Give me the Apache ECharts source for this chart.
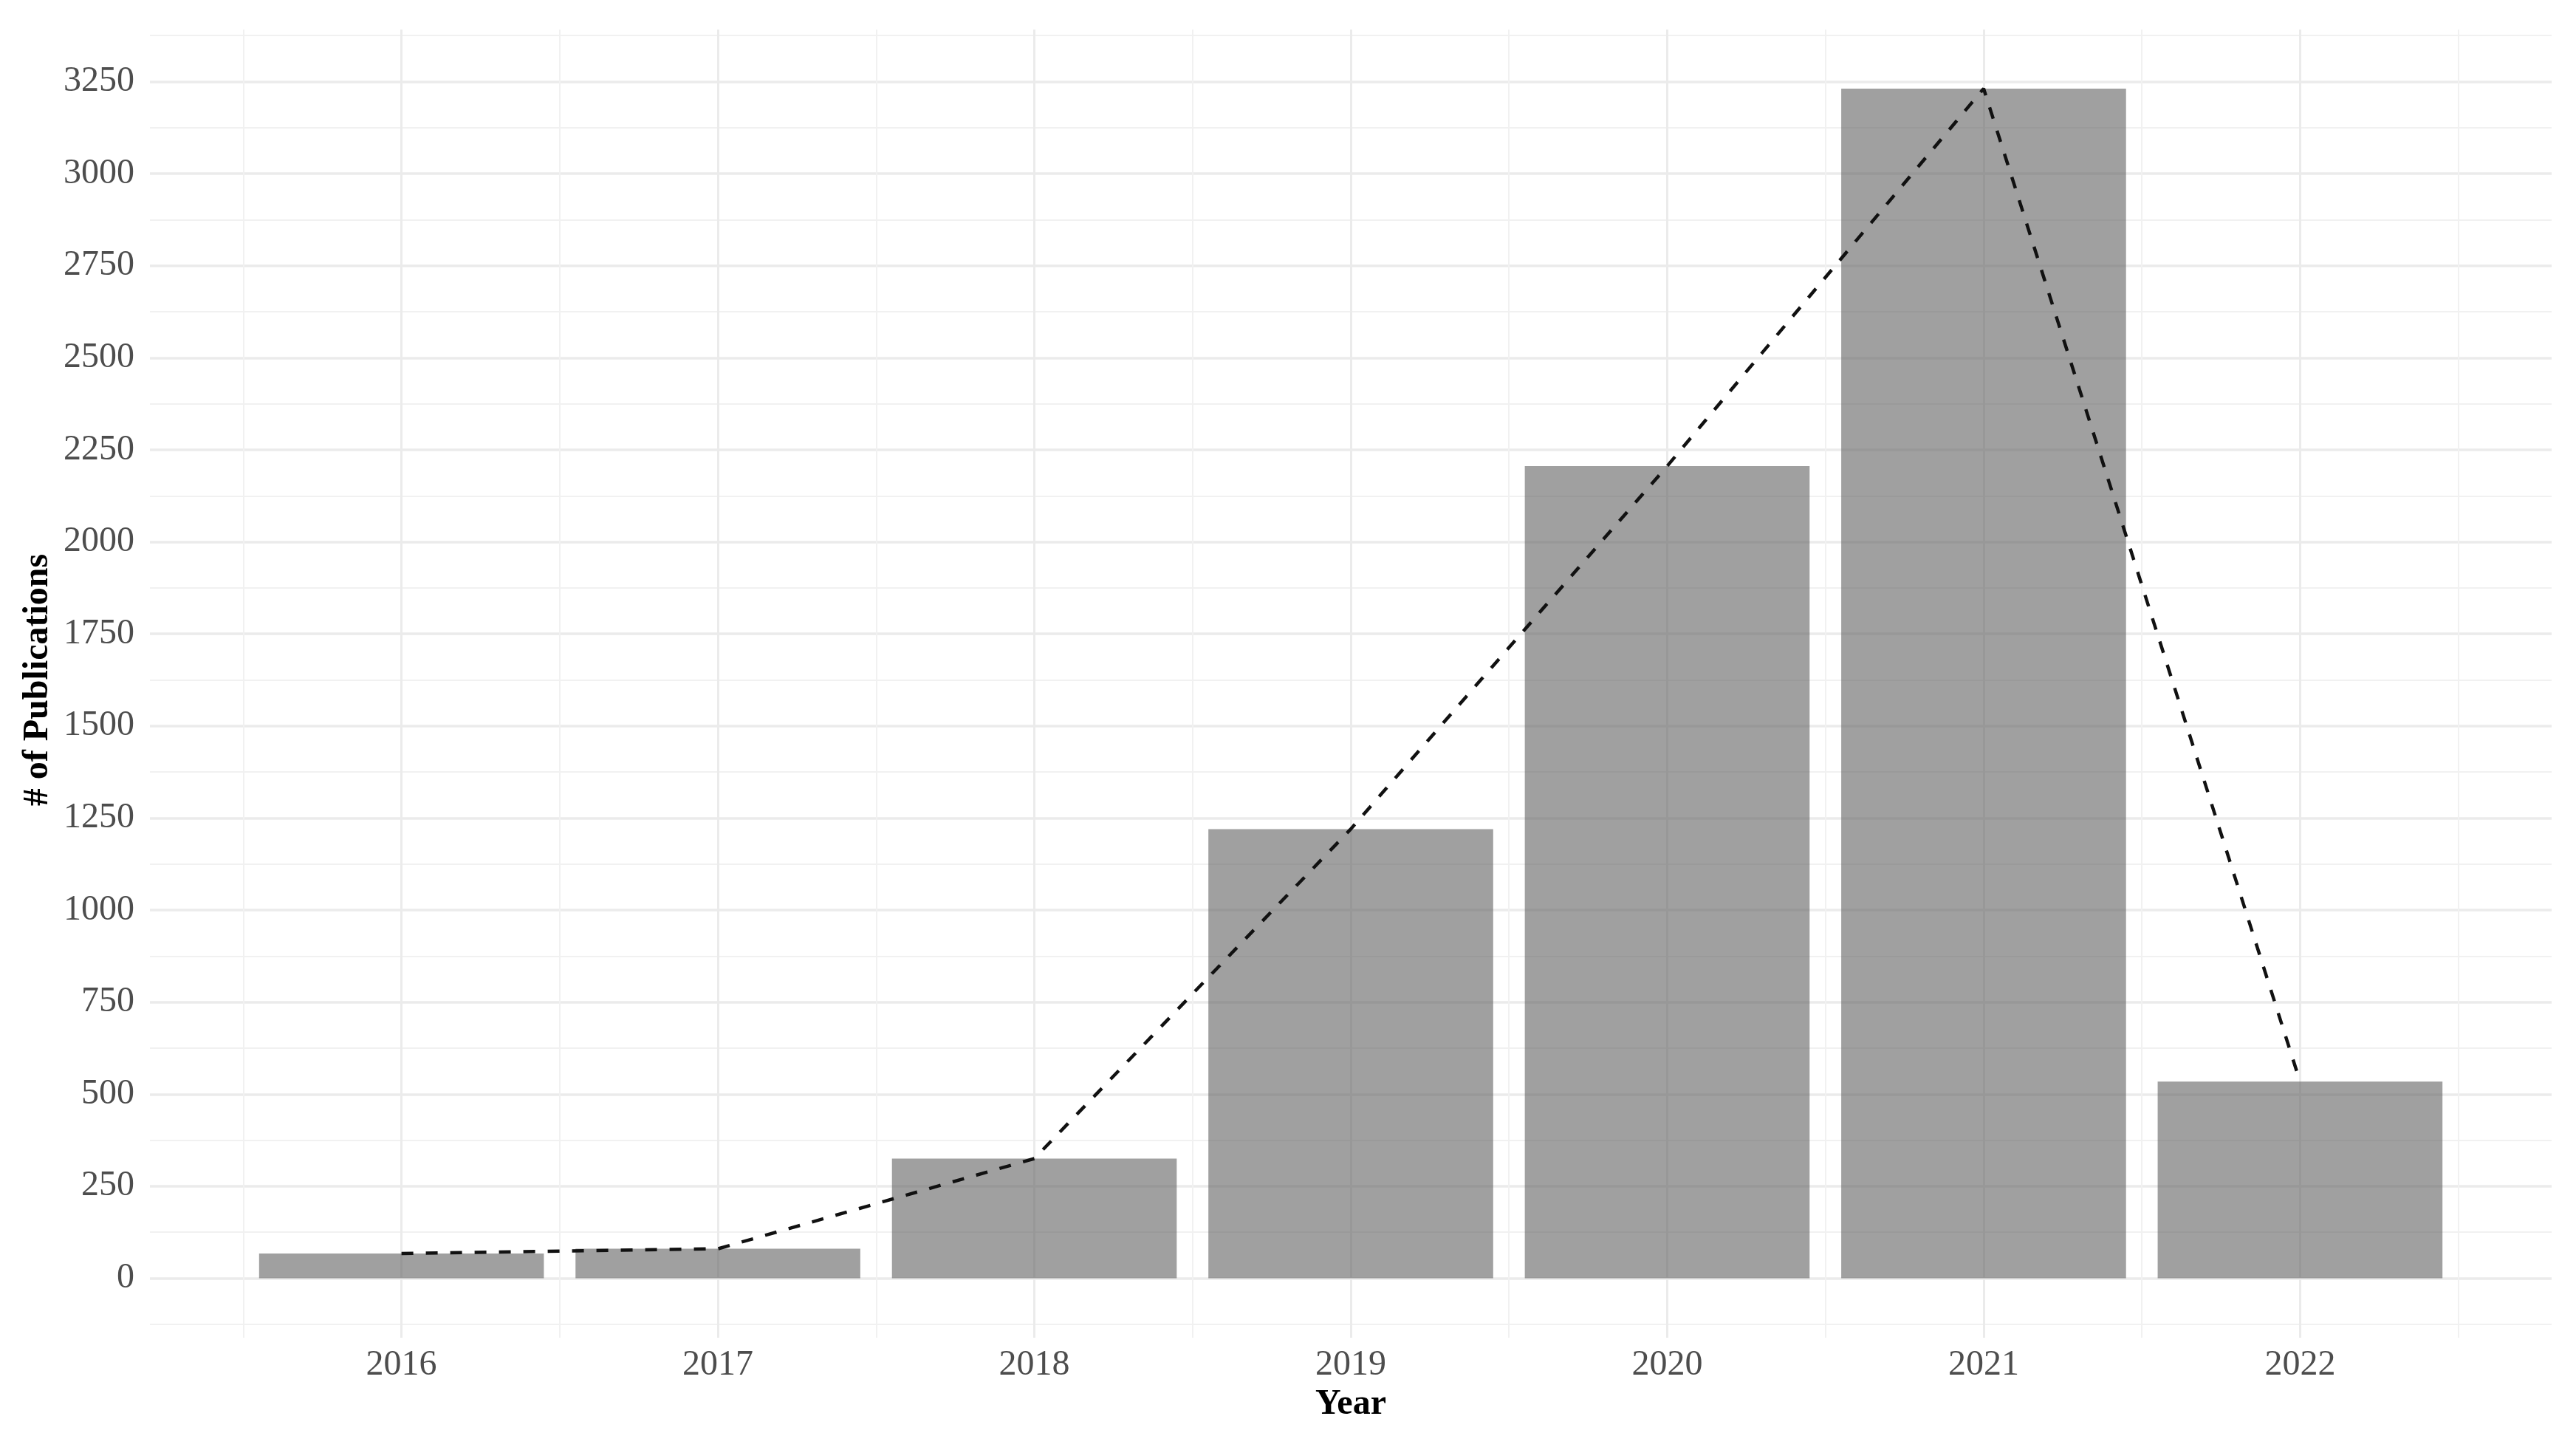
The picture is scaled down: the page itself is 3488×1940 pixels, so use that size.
<!DOCTYPE html>
<html>
<head>
<meta charset="utf-8">
<script src="https://cdn.jsdelivr.net/npm/echarts@6/dist/echarts.min.js"></script>
<style>
html,body{margin:0;padding:0;background:#fff;}
#chart{width:3488px;height:1940px;}
</style>
</head>
<body>
<div id="chart"></div>
<script>
// ---- data ----
const years = ['2016', '2017', '2018', '2019', '2020', '2021', '2022'];
const publications = [67, 80, 325, 1220, 2206, 3231, 534];
const yTickMin = 0;
const yTickMax = 3250;
const yTickStep = 250;
const yTitle = '# of Publications';
const xTitle = 'Year';

// ---- layout (panel in pixels, ggplot-like expanded ranges) ----
const panelL = 203, panelR = 3455, panelT = 40, panelB = 1811;
const xLo = 2015.205, xHi = 2022.795;
const yLo = -161.5, yHi = 3391.5;
const pxX = (panelR - panelL) / (xHi - xLo);
const pxY = (panelB - panelT) / (yHi - yLo);
const X = v => panelL + (v - xLo) * pxX;
const Y = v => panelB - (v - yLo) * pxY;

const firstYear = Number(years[0]);
const lastYear = Number(years[years.length - 1]);

const FONT = 'Liberation Serif';
const majorColor = '#ebebeb';
const minorColor = '#f1f1f1';

const off = {axisLine:{show:false}, axisTick:{show:false}, axisLabel:{show:false}};

const chart = echarts.init(document.getElementById('chart'), null, {renderer: 'canvas'});
chart.setOption({
  backgroundColor: '#ffffff',
  animation: false,
  grid: [
    // 0: minor horizontal lines
    {left: panelL, width: panelR - panelL, top: Y(yTickMax + yTickStep / 2), height: Y(yTickMin - yTickStep / 2) - Y(yTickMax + yTickStep / 2)},
    // 1: major horizontal lines + y labels
    {left: panelL, width: panelR - panelL, top: Y(yTickMax), height: Y(yTickMin) - Y(yTickMax)},
    // 2: bars + line + x labels
    {left: X(firstYear - 0.5), width: X(lastYear + 0.5) - X(firstYear - 0.5), top: Y(yTickMax), height: Y(yTickMin) - Y(yTickMax)},
    // 3: minor vertical lines
    {left: X(firstYear - 0.5), width: X(lastYear + 0.5) - X(firstYear - 0.5), top: panelT, height: panelB - panelT},
    // 4: major vertical lines
    {left: X(firstYear), width: X(lastYear) - X(firstYear), top: panelT, height: panelB - panelT}
  ],
  xAxis: [
    Object.assign({gridIndex: 0, type: 'value', min: 0, max: 1, splitLine: {show: false}}, off),
    Object.assign({gridIndex: 1, type: 'value', min: 0, max: 1, splitLine: {show: false}}, off),
    {
      gridIndex: 2, type: 'category', data: years, boundaryGap: true,
      axisLine: {show: false}, axisTick: {show: false}, splitLine: {show: false},
      axisLabel: {show: true, margin: 94, fontFamily: FONT, fontSize: 48, color: '#4d4d4d'},
      name: xTitle, nameLocation: 'middle', nameGap: 146,
      nameTextStyle: {fontFamily: FONT, fontSize: 48, fontWeight: 'bold', color: '#000'}
    },
    Object.assign({gridIndex: 3, type: 'value', min: 0, max: years.length, interval: 1,
      splitLine: {show: true, lineStyle: {color: minorColor, width: 2}}}, off),
    Object.assign({gridIndex: 4, type: 'value', min: firstYear, max: lastYear, interval: 1,
      splitLine: {show: true, lineStyle: {color: majorColor, width: 3}}}, off)
  ],
  yAxis: [
    Object.assign({gridIndex: 0, type: 'value', min: yTickMin - yTickStep / 2, max: yTickMax + yTickStep / 2, interval: yTickStep,
      splitLine: {show: true, lineStyle: {color: minorColor, width: 2}}}, off),
    {
      gridIndex: 1, type: 'value', min: yTickMin, max: yTickMax, interval: yTickStep,
      axisLine: {show: false}, axisTick: {show: false},
      splitLine: {show: true, lineStyle: {color: majorColor, width: 3.5}},
      axisLabel: {show: true, margin: 21, fontFamily: FONT, fontSize: 48, color: '#4d4d4d',
        formatter: v => String(v)},
      name: yTitle, nameLocation: 'middle', nameGap: 127, nameRotate: 90,
      nameTextStyle: {fontFamily: FONT, fontSize: 48, fontWeight: 'bold', color: '#000'}
    },
    Object.assign({gridIndex: 2, type: 'value', min: yTickMin, max: yTickMax, splitLine: {show: false}}, off),
    Object.assign({gridIndex: 3, type: 'value', min: 0, max: 1, splitLine: {show: false}}, off),
    Object.assign({gridIndex: 4, type: 'value', min: 0, max: 1, splitLine: {show: false}}, off)
  ],
  series: [
    {
      type: 'bar', xAxisIndex: 2, yAxisIndex: 2, data: publications,
      barCategoryGap: '10%',
      itemStyle: {color: 'rgba(97,97,97,0.6)'},
      z: 2
    },
    {
      type: 'line', xAxisIndex: 2, yAxisIndex: 2, data: publications,
      symbol: 'none',
      lineStyle: {color: '#111111', width: 4.5, type: [16, 17]},
      z: 3
    }
  ]
});
</script>
</body>
</html>
